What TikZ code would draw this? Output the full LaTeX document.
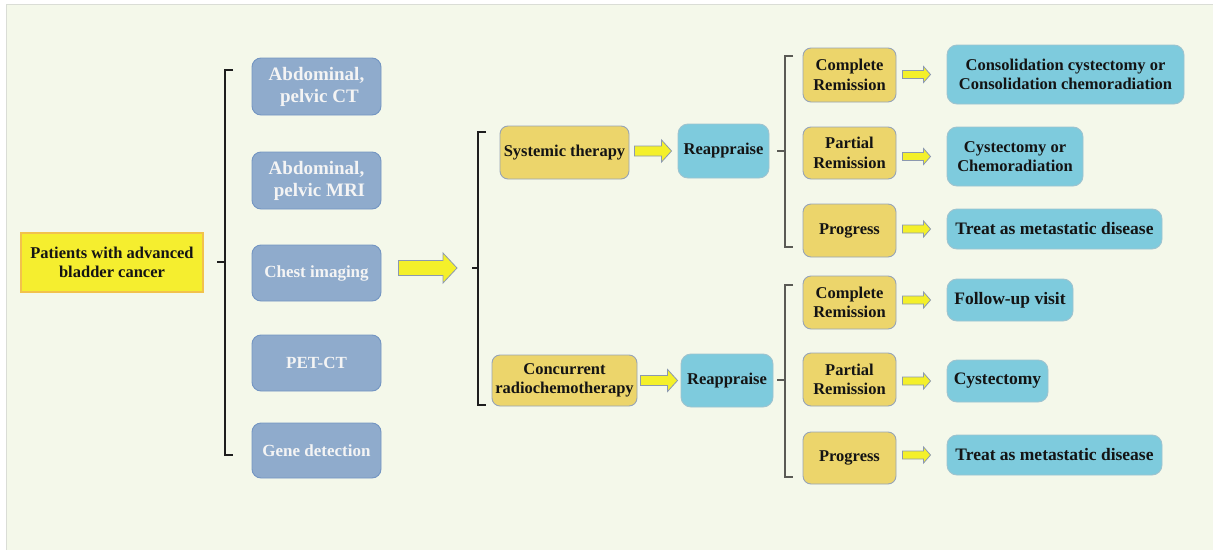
\documentclass[tikz,border=0pt]{standalone}
\usepackage{fontspec}
\setmainfont{Liberation Serif}
\usetikzlibrary{calc}
\definecolor{bgc}{HTML}{F4F8EA}
\definecolor{bgline}{HTML}{DADDD6}
\definecolor{patfill}{HTML}{F5EE2F}
\definecolor{patline}{HTML}{F2C24C}
\definecolor{exfill}{HTML}{8FABCC}
\definecolor{exline}{HTML}{7395C2}
\definecolor{extext}{HTML}{F4F4F4}
\definecolor{goldfill}{HTML}{ECD56B}
\definecolor{goldline}{HTML}{97A4B6}
\definecolor{cyfill}{HTML}{7ECBDD}
\definecolor{cyline}{HTML}{9DC3CF}
\definecolor{arfill}{HTML}{F4F02A}
\definecolor{arline}{HTML}{8C99B0}
\definecolor{txt}{HTML}{141414}
\definecolor{brk}{HTML}{1E1E1E}
\definecolor{brkgray}{HTML}{5A5A55}
\tikzset{
  base/.style={align=center, inner sep=0pt, text=txt, font=\bfseries\fontsize{16.5}{19.5}\selectfont},
  patient/.style={base, fill=patfill, draw=patline, line width=2.5pt},
  exam/.style={base, rounded corners=9pt, fill=exfill, draw=exline, line width=0.9pt, text=extext, font=\bfseries\fontsize{17}{22}\selectfont},
  exambig/.style={exam, font=\bfseries\fontsize{19}{22}\selectfont},
  gold/.style={base, rounded corners=8pt, fill=goldfill, draw=goldline, line width=0.9pt},
  cyan/.style={base, rounded corners=10pt, fill=cyfill, draw=cyline, line width=0.9pt},
  cyanbig/.style={cyan, font=\bfseries\fontsize{17.5}{19.5}\selectfont},
  blockarrow/.style={fill=arfill, draw=arline, line width=0.8pt, line join=miter},
  bracket/.style={draw=brk, line width=1.4pt},
  bracketg/.style={draw=brkgray, line width=1.4pt},
}
% #1 start anchor, #2 end anchor, #3 start gap, #4 end gap, #5 shaft half, #6 head half, #7 head length
\newcommand{\blockarr}[7]{%
  \path[blockarrow] let \p1=(#1), \p2=(#2) in
    (\x1+#3pt,\y2-#5pt) -- (\x2-#4pt-#7pt,\y2-#5pt) -- (\x2-#4pt-#7pt,\y2-#6pt)
    -- (\x2-#4pt,\y2) -- (\x2-#4pt-#7pt,\y2+#6pt) -- (\x2-#4pt-#7pt,\y2+#5pt)
    -- (\x1+#3pt,\y2+#5pt) -- cycle;}
\begin{document}
\begin{tikzpicture}[x=1pt,y=-1pt]
\useasboundingbox (0,0) rectangle (1213,549);
\fill[white] (0,0) rectangle (1213,549);
\filldraw[fill=bgc, draw=bgline, line width=0.8pt] (6,4) rectangle (1214,550);

% patients
\node[patient, minimum width=182pt, minimum height=59pt] (pat) at (112,262.5) {Patients with advanced\\bladder cancer};

% bracket 1
\coordinate (b1in) at (217,262);
\draw[bracket] (233,70) -- (225,70) -- (225,455) -- (233,455);
\draw[bracket] (b1in) -- (225,262);

% exams
\node[exambig, minimum width=129pt, minimum height=57pt] (ct) at (316.5,86.5) {Abdominal,\\\hspace*{6pt}pelvic CT};
\node[exambig, minimum width=129pt, minimum height=57pt] (mri) at (316.5,180.5) {Abdominal,\\\hspace*{6pt}pelvic MRI};
\node[exam, minimum width=129pt, minimum height=56pt] (chest) at (316.5,273) {Chest imaging};
\node[exam, minimum width=129pt, minimum height=56pt] (pet) at (316.5,363) {PET-CT};
\node[exam, minimum width=129pt, minimum height=55pt] (gene) at (316.5,450.5) {Gene detection};

% bracket 2
\coordinate (b2in) at (472,268);
\draw[bracket] (486,132) -- (478,132) -- (478,405) -- (486,405);
\draw[bracket] (b2in) -- (478,268);

% big arrow
\blockarr{chest.east}{b2in}{17}{15}{7.5}{15}{14}

% therapies
\node[gold, minimum width=129pt, minimum height=53pt] (sys) at (564.5,152.5) {Systemic therapy};
\node[gold, minimum width=145pt, minimum height=51pt] (ccrt) at (564.5,380.5) {Concurrent\\radiochemotherapy};
\node[cyan, minimum width=91pt, minimum height=54pt] (re1) at (723.5,151) {Reappraise};
\node[cyan, minimum width=92pt, minimum height=53pt] (re2) at (727,380.5) {Reappraise};
\blockarr{sys.east}{re1.west}{5}{6}{5}{11}{10}
\blockarr{ccrt.east}{re2.west}{3}{3}{5}{11}{10}

% bracket 3 and 4
\coordinate (b3in) at (777,151);
\coordinate (b4in) at (777,380);
\draw[bracketg] (793,56) -- (785,56) -- (785,247) -- (793,247);
\draw[bracketg] (b3in) -- (785,151);
\draw[bracketg] (793,285) -- (785,285) -- (785,477) -- (793,477);
\draw[bracketg] (b4in) -- (785,380);

% responses
\node[gold, minimum width=93pt, minimum height=54pt] (cr1) at (849.5,75) {Complete\\Remission};
\node[gold, minimum width=93pt, minimum height=52pt] (pr1) at (849.5,153) {Partial\\Remission};
\node[gold, minimum width=93pt, minimum height=53pt] (pg1) at (849.5,230.5) {Progress};
\node[gold, minimum width=93pt, minimum height=53pt] (cr2) at (849.5,302.5) {Complete\\Remission};
\node[gold, minimum width=93pt, minimum height=53pt] (pr2) at (849.5,379.5) {Partial\\Remission};
\node[gold, minimum width=93pt, minimum height=52pt] (pg2) at (849.5,458) {Progress};

% results
\node[cyan, minimum width=237pt, minimum height=59pt] (o1) at (1065.5,74.5) {Consolidation cystectomy or\\Consolidation chemoradiation};
\node[cyan, minimum width=136pt, minimum height=59pt] (o2) at (1015,156.5) {Cystectomy or\\Chemoradiation};
\node[cyanbig, minimum width=215pt, minimum height=40pt] (o3) at (1054.5,229) {Treat as metastatic disease};
\node[cyanbig, minimum width=126pt, minimum height=42pt] (o4) at (1010,300) {Follow-up visit};
\node[cyanbig, minimum width=101pt, minimum height=42pt] (o5) at (997.5,381) {Cystectomy};
\node[cyanbig, minimum width=215pt, minimum height=40pt] (o6) at (1054.5,455) {Treat as metastatic disease};

\blockarr{cr1.east}{o1.west}{6}{16}{4}{8}{7}
\blockarr{pr1.east}{o2.west}{6}{16}{4}{8}{7}
\blockarr{pg1.east}{o3.west}{6}{16}{4}{8}{7}
\blockarr{cr2.east}{o4.west}{6}{16}{4}{8}{7}
\blockarr{pr2.east}{o5.west}{6}{16}{4}{8}{7}
\blockarr{pg2.east}{o6.west}{6}{16}{4}{8}{7}
\end{tikzpicture}
\end{document}
